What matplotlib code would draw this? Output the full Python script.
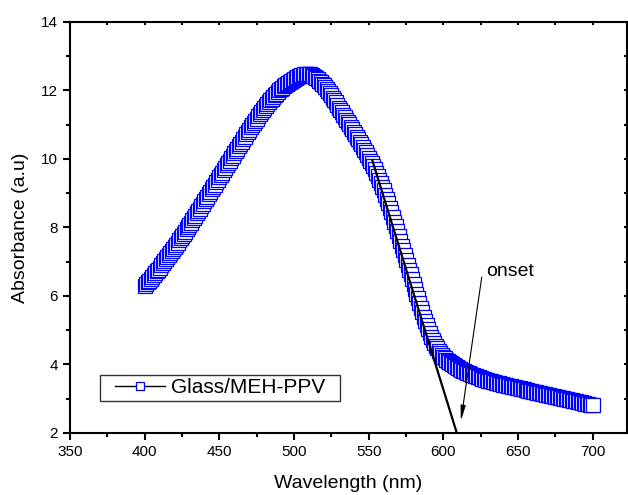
import numpy as np
import matplotlib.pyplot as plt
from matplotlib.patches import Rectangle
from matplotlib.ticker import MultipleLocator

plt.rcParams['font.family'] = ['Liberation Sans', 'DejaVu Sans']

# absorbance spectrum, one reading per nm from 400 to 700
wavelength = np.arange(400, 701, 1)
absorbance = [
    6.30, 6.35, 6.40, 6.45, 6.50, 6.55, 6.61, 6.66, 6.72, 6.77,
    6.83, 6.89, 6.95, 7.01, 7.07, 7.13, 7.19, 7.25, 7.31, 7.37,
    7.43, 7.49, 7.56, 7.62, 7.69, 7.75, 7.82, 7.88, 7.95, 8.01,
    8.08, 8.14, 8.21, 8.27, 8.34, 8.41, 8.48, 8.55, 8.62, 8.69,
    8.76, 8.83, 8.90, 8.97, 9.04, 9.11, 9.18, 9.25, 9.32, 9.39,
    9.46, 9.53, 9.60, 9.67, 9.74, 9.81, 9.88, 9.95, 10.02, 10.09,
    10.16, 10.23, 10.30, 10.37, 10.44, 10.51, 10.58, 10.65, 10.72, 10.79,
    10.86, 10.92, 10.99, 11.05, 11.12, 11.18, 11.25, 11.31, 11.37, 11.43,
    11.49, 11.54, 11.60, 11.65, 11.71, 11.76, 11.81, 11.86, 11.91, 11.95,
    12.00, 12.04, 12.08, 12.12, 12.16, 12.20, 12.23, 12.26, 12.29, 12.32,
    12.34, 12.37, 12.39, 12.41, 12.43, 12.45, 12.46, 12.47, 12.48, 12.48,
    12.48, 12.47, 12.45, 12.43, 12.40, 12.37, 12.33, 12.29, 12.25, 12.20,
    12.15, 12.10, 12.04, 11.98, 11.92, 11.86, 11.79, 11.72, 11.65, 11.58,
    11.50, 11.43, 11.36, 11.29, 11.22, 11.15, 11.08, 11.01, 10.94, 10.87,
    10.80, 10.73, 10.65, 10.58, 10.50, 10.43, 10.35, 10.27, 10.19, 10.11,
    10.03, 9.95, 9.87, 9.79, 9.70, 9.60, 9.50, 9.40, 9.30, 9.19,
    9.08, 8.96, 8.84, 8.71, 8.58, 8.45, 8.31, 8.17, 8.03, 7.89,
    7.75, 7.61, 7.47, 7.33, 7.19, 7.05, 6.91, 6.77, 6.63, 6.49,
    6.35, 6.21, 6.07, 5.93, 5.79, 5.66, 5.53, 5.40, 5.27, 5.15,
    5.03, 4.92, 4.81, 4.71, 4.62, 4.54, 4.47, 4.40, 4.34, 4.28,
    4.23, 4.18, 4.14, 4.10, 4.07, 4.04, 4.01, 3.98, 3.96, 3.93,
    3.90, 3.87, 3.85, 3.82, 3.80, 3.78, 3.76, 3.74, 3.72, 3.70,
    3.68, 3.66, 3.65, 3.63, 3.62, 3.60, 3.59, 3.57, 3.56, 3.54,
    3.53, 3.52, 3.51, 3.49, 3.48, 3.47, 3.46, 3.45, 3.44, 3.42,
    3.41, 3.40, 3.39, 3.38, 3.37, 3.36, 3.35, 3.34, 3.33, 3.32,
    3.31, 3.30, 3.29, 3.28, 3.27, 3.26, 3.25, 3.24, 3.23, 3.22,
    3.21, 3.20, 3.19, 3.18, 3.17, 3.16, 3.15, 3.14, 3.13, 3.12,
    3.11, 3.10, 3.09, 3.08, 3.07, 3.06, 3.05, 3.04, 3.03, 3.02,
    3.01, 3.00, 2.99, 2.98, 2.97, 2.96, 2.95, 2.94, 2.93, 2.92,
    2.91, 2.90, 2.89, 2.88, 2.87, 2.86, 2.85, 2.84, 2.83, 2.82,
    2.81,
]

# tangent to the absorption edge
tangent_x = [552.5, 609.0]
tangent_y = [9.95, 2.0]

# onset label and arrow
onset_text = (628.5, 6.72)
onset_tail = (625.7, 6.55)
onset_head = (611.7, 2.35)

fig = plt.figure(figsize=(6.28, 4.95), dpi=100)
ax = fig.add_axes([0.1115, 0.1253, 0.887, 0.8303])

ax.plot(wavelength, absorbance, color='black', lw=1.0, marker='s', ms=9.6,
        mfc='white', mec='#0000ff', mew=0.9, label='Glass/MEH-PPV')
ax.plot(tangent_x, tangent_y, color='black', lw=1.6)

ax.text(*onset_text, 'onset', fontsize=14, ha='left', va='center')
ax.annotate('', xy=onset_head, xytext=onset_tail,
            arrowprops=dict(arrowstyle='-|>,head_length=0.9,head_width=0.15',
                            color='black', lw=0.8, shrinkA=0, shrinkB=0))

ax.set_xlim(350, 723)
ax.set_ylim(2, 14)
ax.xaxis.set_major_locator(MultipleLocator(50))
ax.xaxis.set_minor_locator(MultipleLocator(25))
ax.yaxis.set_major_locator(MultipleLocator(2))
ax.yaxis.set_minor_locator(MultipleLocator(1))

for s in ax.spines.values():
    s.set_linewidth(1.5)
ax.tick_params(which='both', direction='out', width=1.5, labelsize=11,
               top=False, right=False)
ax.tick_params(which='major', length=5)
ax.tick_params(which='minor', length=3)
# short inward ticks on the top and right frame
ax.tick_params(which='both', top=True, right=True, labeltop=False, labelright=False)
for t in ax.xaxis.get_ticklines(minor=True)[1::2] + ax.xaxis.get_ticklines()[1::2]:
    t.set_marker(3)
    t.set_markersize(2)
for t in ax.yaxis.get_ticklines(minor=True)[1::2] + ax.yaxis.get_ticklines()[1::2]:
    t.set_marker(0)
    t.set_markersize(2)

ax.set_xlabel('Wavelength (nm)', fontsize=14, labelpad=12)
ax.set_ylabel('Absorbance (a.u)', fontsize=14, labelpad=9)

# legend with its own box so the side padding can be wider than the top
ax.add_patch(Rectangle((0.0539, 0.0779), 0.4308, 0.0632, transform=ax.transAxes,
                       fill=False, ec='#333333', lw=1.0, zorder=5))
ax.legend(loc='center', bbox_to_anchor=(0.2693, 0.1095), borderaxespad=0,
          fontsize=15, frameon=False, handlelength=2.4, handletextpad=0.3,
          borderpad=0.1, markerscale=0.6)

fig.savefig('out.png', dpi=100)
